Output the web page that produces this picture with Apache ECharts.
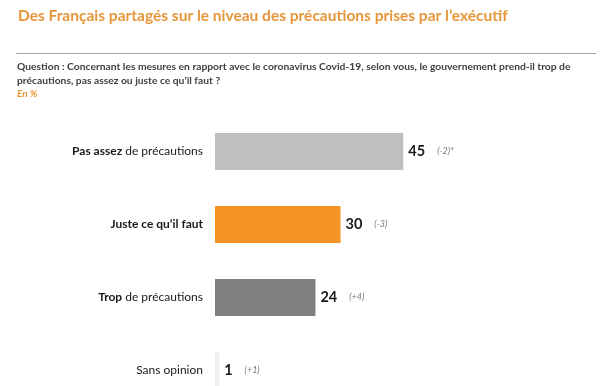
<!DOCTYPE html>
<html><head><meta charset="utf-8">
<script src="https://cdn.jsdelivr.net/npm/echarts@6/dist/echarts.min.js"></script>
<style>html,body{margin:0;padding:0;background:#fff}#c{width:600px;height:386px}</style>
</head><body><div id="c"></div>
<script>
const categories = ['Pas assez de précautions', 'Juste ce qu\u2019il faut', 'Trop de précautions', 'Sans opinion'];
const boldParts = ['Pas assez', 'Juste ce qu\u2019il faut', 'Trop', ''];
const normalParts = [' de précautions', '', ' de précautions', 'Sans opinion'];
const values = [45, 30, 24, 1];
const deltas = ['(-2)*', '(-3)', '(+4)', '(+1)'];
const barColors = ['#BFBFBF', '#F39425', '#7F7F7F', '#EFEFEF'];

const FONT = 'Lato';
const chart = echarts.init(document.getElementById('c'));
chart.setOption({
  animation: false,
  backgroundColor: '#fff',
  title: [
    { text: 'Des Français partagés sur le niveau des précautions prises par l\u2019exécutif', left: 13, top: 3,
      textStyle: { color: '#E8963A', fontSize: 15.5, fontWeight: 'bold', fontFamily: FONT } },
    { text: 'Question : Concernant les mesures en rapport avec le coronavirus Covid-19, selon vous, le gouvernement prend-il trop de\nprécautions, pas assez ou juste ce qu\u2019il faut ?', left: 12, top: 55,
      textStyle: { color: '#404040', fontSize: 10.3, fontWeight: 'bold', fontFamily: FONT, lineHeight: 14 } },
    { text: 'En %', left: 12, top: 84,
      textStyle: { color: '#E8963A', fontSize: 10, fontWeight: 'bold', fontStyle: 'italic', fontFamily: FONT } }
  ],
  graphic: [
    { type: 'line', shape: { x1: 16, y1: 53.5, x2: 596, y2: 53.5 }, style: { stroke: '#A6A6A6', lineWidth: 1 } }
  ],
  grid: { left: 215, top: 115, width: 385, height: 292, containLabel: false, outerBoundsMode: 'none' },
  xAxis: { type: 'value', min: 0, max: 92, show: false },
  yAxis: {
    type: 'category', inverse: true, data: categories,
    axisLine: { show: false }, axisTick: { show: false },
    axisLabel: {
      margin: 12,
      formatter: function (v, i) {
        let s = '';
        if (boldParts[i]) s += '{b|' + boldParts[i] + '}';
        if (normalParts[i]) s += '{n|' + normalParts[i] + '}';
        return s;
      },
      rich: {
        b: { fontFamily: FONT, fontSize: 12, fontWeight: 'bold', color: '#1a1a1a' },
        n: { fontFamily: FONT, fontSize: 12, color: '#1a1a1a' }
      }
    }
  },
  series: [{
    type: 'bar', barWidth: 37,
    data: values.map((v, i) => ({ value: v, itemStyle: { color: barColors[i] } })),
    label: {
      show: true, position: 'right', distance: 5,
      formatter: function (p) { return '{v|' + p.value + '}{d|' + deltas[p.dataIndex] + '}'; },
      rich: {
        v: { fontFamily: FONT, fontSize: 14.5, fontWeight: 'bold', color: '#1a1a1a' },
        d: { fontFamily: FONT, fontSize: 9, fontStyle: 'italic', color: '#7a7a7a', padding: [0, 0, 0, 12] }
      }
    }
  }]
});
</script></body></html>
